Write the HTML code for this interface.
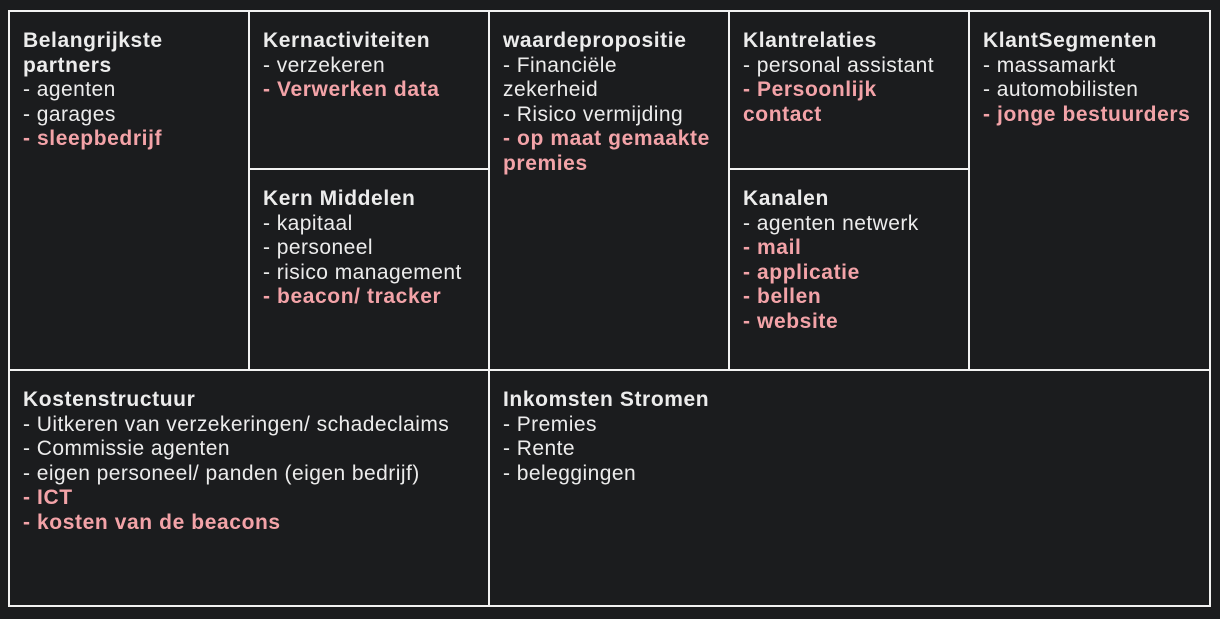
<!DOCTYPE html>
<html><head><style>
html,body{margin:0;padding:0;background:#1b1c1e;width:1220px;height:619px;overflow:hidden}
.c{position:absolute;border:2px solid #f2f2f2;box-sizing:border-box;font-family:"Liberation Sans",sans-serif;font-size:21px;line-height:24.5px;letter-spacing:0.45px;color:#ececec;padding:17px 0 0 13px}
b{font-weight:bold;letter-spacing:0.6px}
.p{color:#f3a3a8;font-weight:bold;letter-spacing:0.6px}
</style></head><body>
<div class="c" style="left:8px;top:10px;width:242px;height:361px"><b>Belangrijkste<br>partners</b><br>- agenten<br>- garages<br><span class="p">- sleepbedrijf</span></div>
<div class="c" style="left:248px;top:10px;width:242px;height:160px"><b>Kernactiviteiten</b><br>- verzekeren<br><span class="p">- Verwerken data</span></div>
<div class="c" style="left:248px;top:168px;width:242px;height:203px"><b>Kern Middelen</b><br>- kapitaal<br>- personeel<br>- risico management<br><span class="p">- beacon/ tracker</span></div>
<div class="c" style="left:488px;top:10px;width:242px;height:361px"><b>waardepropositie</b><br>- Financiële<br>zekerheid<br>- Risico vermijding<br><span class="p">- op maat gemaakte<br>premies</span></div>
<div class="c" style="left:728px;top:10px;width:242px;height:160px"><b>Klantrelaties</b><br>- personal assistant<br><span class="p">- Persoonlijk<br>contact</span></div>
<div class="c" style="left:728px;top:168px;width:242px;height:203px"><b>Kanalen</b><br>- agenten netwerk<br><span class="p">- mail<br>- applicatie<br>- bellen<br>- website</span></div>
<div class="c" style="left:968px;top:10px;width:243px;height:361px"><b>KlantSegmenten</b><br>- massamarkt<br>- automobilisten<br><span class="p">- jonge bestuurders</span></div>
<div class="c" style="left:8px;top:369px;width:482px;height:238px"><b>Kostenstructuur</b><br>- Uitkeren van verzekeringen/ schadeclaims<br>- Commissie agenten<br>- eigen personeel/ panden (eigen bedrijf)<br><span class="p">- ICT<br>- kosten van de beacons</span></div>
<div class="c" style="left:488px;top:369px;width:723px;height:238px"><b>Inkomsten Stromen</b><br>- Premies<br>- Rente<br>- beleggingen</div>
</body></html>
